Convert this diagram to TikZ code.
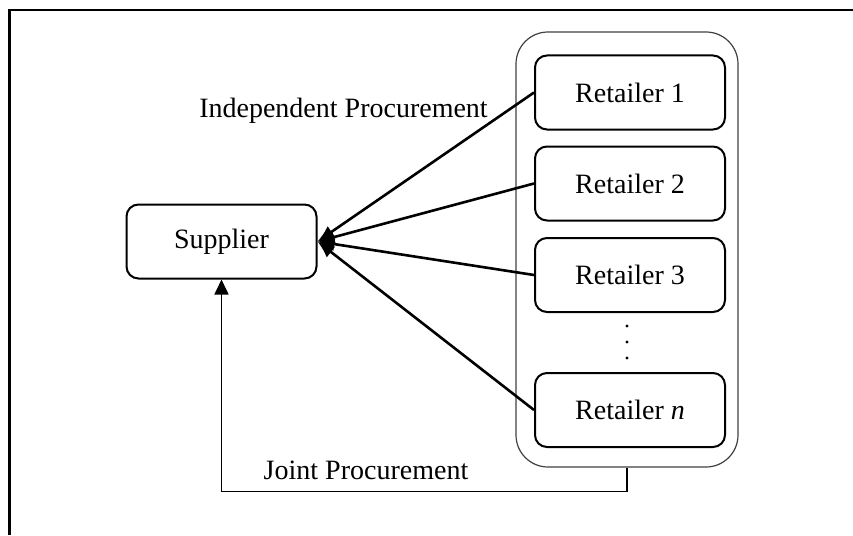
\documentclass[tikz,border=0pt]{standalone}
\usepackage{fontspec}
\setmainfont{Liberation Serif}
\usetikzlibrary{arrows.meta}
\begin{document}
\begin{tikzpicture}[x=1pt,y=-1pt,
  box/.style={draw=black,line width=2pt,rounded corners=12pt,minimum width=190pt,minimum height=74pt,inner sep=0pt,font=\fontsize{28}{33}\selectfont},
  outerbox/.style={draw=black!75,line width=1.2pt,rounded corners=32pt,minimum width=222pt,minimum height=435pt,inner sep=0pt},
  lbl/.style={font=\fontsize{28}{33}\selectfont,inner sep=0pt},
  arr/.style={line width=2.6pt,-{Latex[length=17pt,width=14pt]}},
  jarr/.style={line width=1.6pt,-{Triangle[length=15pt,width=14pt]}},
  dotc/.style={fill=black,circle,inner sep=0pt,minimum size=3.2pt}]
\useasboundingbox (0,0) rectangle (853,535);
\draw[line width=2.5pt] (9.5,535) -- (9.5,10) -- (853,10);
\node[outerbox] (outer) at (627,249.5) {};
\node[box] (sup) at (221.5,241.5) {Supplier};
\node[box] (r1) at (630,92.5) {Retailer 1};
\node[box] (r2) at (630,183.5) {Retailer 2};
\node[box] (r3) at (630,275) {Retailer 3};
\node[box] (rn) at (630,410) {Retailer \textit{n}};
\node[dotc] (d1) at (627,326) {};
\node[dotc] (d2) at (627,342) {};
\node[dotc] (d3) at (627,358) {};
\draw[arr] (r1.west) -- (sup.east);
\draw[arr] (r2.west) -- (sup.east);
\draw[arr] (r3.west) -- (sup.east);
\draw[arr] (rn.west) -- (sup.east);
\draw[jarr] (outer.south) -- ++(0,24) -| (sup.south);
\node[lbl] (ip) at (343.5,111) {Independent Procurement};
\node[lbl] (jp) at (366,470) {Joint Procurement};
\end{tikzpicture}
\end{document}
